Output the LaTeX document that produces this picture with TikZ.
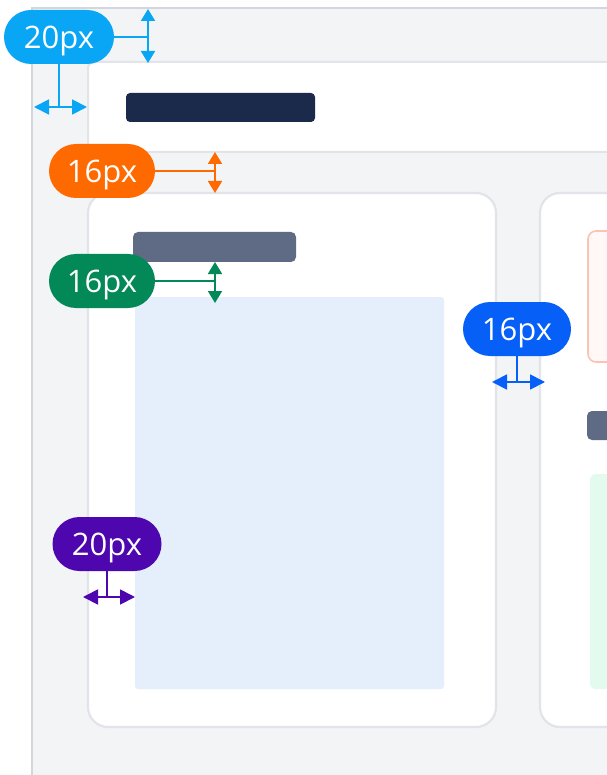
\documentclass[tikz,border=0pt]{standalone}
\usepackage{fontspec}
\setmainfont{Open Sans}
\usetikzlibrary{arrows.meta}
\definecolor{framebg}{HTML}{F3F4F6}
\definecolor{framebd}{HTML}{D3D6DC}
\definecolor{cardbd}{HTML}{E2E4E9}
\definecolor{navy}{HTML}{1B2A4A}
\definecolor{slate}{HTML}{5F6B85}
\definecolor{bluefill}{HTML}{E5EEFB}
\definecolor{greenfill}{HTML}{E3FAEE}
\definecolor{pinkbd}{HTML}{FBC3B4}
\definecolor{pinkfill}{HTML}{FFF8F6}
\definecolor{ccyan}{HTML}{08A6F5}
\definecolor{corange}{HTML}{FF6A00}
\definecolor{cgreen}{HTML}{038857}
\definecolor{cblue}{HTML}{065FF7}
\definecolor{cpurple}{HTML}{4E06AF}
\begin{document}
\begin{tikzpicture}[x=1pt,y=-1pt,
  pill/.style={rectangle, rounded corners=27pt, minimum height=54pt, inner sep=0pt,
    text=white, text depth=0pt, font=\fontsize{31}{32}\selectfont},
  card/.style={fill=white, draw=cardbd, line width=2.2pt, rounded corners=20pt},
  bar/.style={rounded corners=5pt},
  lnk/.style={line width=1.6pt},
  vdim/.style={line width=1.8pt, {Triangle[length=12pt,width=14pt]}-{Triangle[length=12pt,width=14pt]}},
  hdim/.style={line width=1.8pt, {Triangle[length=15pt,width=15pt]}-{Triangle[length=15pt,width=15pt]}}]
\useasboundingbox (0,0) rectangle (606,775);
\fill[white] (0,0) rectangle (606,775);
% outer frame
\fill[framebg] (32,8) rectangle (612,781);
\draw[framebd, line width=1.3pt] (32,781) -- (32,8) -- (612,8);
% header
\draw[fill=white, draw=cardbd, line width=2pt, rounded corners=6pt] (88,62) rectangle (630,152);
\fill[navy, rounded corners=4pt] (126,93) rectangle (315,122);
% cards
\draw[card] (88,193) rectangle (496,727);
\draw[card] (540,193) rectangle (660,727);
% card 1 content
\fill[slate, bar] (133,232) rectangle (296,262);
\fill[bluefill, rounded corners=3pt] (135,297) rectangle (444,689);
% card 2 content
\draw[fill=pinkfill, draw=pinkbd, line width=1.6pt, rounded corners=8pt] (588,231) rectangle (640,362);
\fill[slate, bar] (587,411) rectangle (640,440);
\fill[greenfill, rounded corners=6pt] (590,474) rectangle (640,689);

% cyan 20px
\node[pill, fill=ccyan, minimum width=110pt] (p1) at (59,37) {20px};
\coordinate (c1t) at (148,9);
\coordinate (c1b) at (148,63);
\coordinate (c1l) at (34,107);
\coordinate (c1r) at (87,107);
\draw[ccyan, lnk] (p1.east) -- (p1.east -| c1t);
\draw[ccyan, vdim] (c1t) -- (c1b);
\draw[ccyan, lnk] (p1.south) -- (p1.south |- c1l);
\draw[ccyan, hdim] (c1l) -- (c1r);

% orange 16px
\node[pill, fill=corange, minimum width=106pt] (p2) at (102,171) {16px};
\coordinate (c2t) at (215,152);
\coordinate (c2b) at (215,193);
\draw[corange, lnk] (p2.east) -- (p2.east -| c2t);
\draw[corange, vdim] (c2t) -- (c2b);

% green 16px
\node[pill, fill=cgreen, minimum width=106pt] (p3) at (102,281) {16px};
\coordinate (c3t) at (215,262);
\coordinate (c3b) at (215,303);
\draw[cgreen, lnk] (p3.east) -- (p3.east -| c3t);
\draw[cgreen, vdim] (c3t) -- (c3b);

% blue 16px
\node[pill, fill=cblue, minimum width=108pt] (p4) at (517,329) {16px};
\coordinate (c4l) at (492,382);
\coordinate (c4r) at (545,382);
\draw[cblue, lnk] (p4.south) -- (p4.south |- c4l);
\draw[cblue, hdim] (c4l) -- (c4r);

% purple 20px
\node[pill, fill=cpurple, minimum width=109pt] (p5) at (107,544) {20px};
\coordinate (c5l) at (83,597);
\coordinate (c5r) at (135,597);
\draw[cpurple, lnk] (p5.south) -- (p5.south |- c5l);
\draw[cpurple, hdim] (c5l) -- (c5r);
\end{tikzpicture}
\end{document}
